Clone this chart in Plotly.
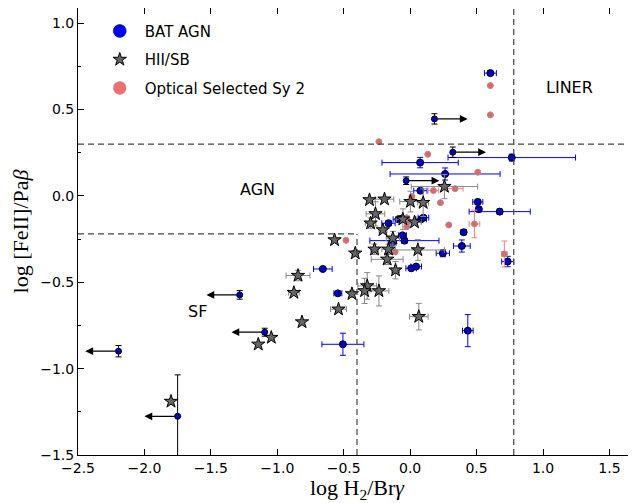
import plotly.graph_objects as go

# BAT AGN, measured points (blue error bars)
bat_x = [0.604, 0.765, 0.075, 0.263, 0.077, 0.509, 0.517, 0.674, 0.403, 0.389,
         0.246, 0.734, 0.008, 0.045, -0.657, -0.544, -0.506, -0.043, -0.058, -0.135,
         -0.163, -0.088, -0.063, 0.083, 0.100, 0.434]
bat_y = [0.711, 0.222, 0.193, 0.127, 0.030, -0.035, -0.077, -0.091, -0.210, -0.290,
         -0.332, -0.380, -0.419, -0.409, -0.423, -0.564, -0.859, -0.259, -0.228, -0.270,
         -0.158, -0.135, -0.131, -0.135, -0.126, -0.780]
bat_xerr = [0.045, 0.48, 0.287, 0.414, 0.05, 0.038, 0.02, 0.23, 0.02, 0.063,
            0.05, 0.045, 0.04, 0.04, 0.07, 0.03, 0.158, 0.26, 0.03, 0.03,
            0.05, 0.04, 0.03, 0.04, 0.04, 0.04]
bat_yerr = [0.012, 0.02, 0.03, 0.035, 0.01, 0.015, 0.012, 0.015, 0.012, 0.035,
            0.02, 0.03, 0.01, 0.01, 0.01, 0.01, 0.064, 0.015, 0.012, 0.012,
            0.015, 0.012, 0.01, 0.01, 0.01, 0.093]

# BAT AGN, limits in H2/Brg (arrows)
lim_x = [-1.283, -1.095, -2.195, -1.75, 0.183, 0.321, -0.03]
lim_y = [-0.573, -0.789, -0.899, -1.276, 0.446, 0.253, 0.088]
lim_yerr_up = [0.025, 0.023, 0.033, 0.24, 0.03, 0.03, 0.022]
lim_yerr_dn = [0.025, 0.023, 0.033, 0.30, 0.03, 0.03, 0.022]
lim_dir = [-1, -1, -1, -1, 1, 1, 1]
arrow_len = 0.25

# HII / starbursts
sb_x = [-1.80, -1.143, -1.045, -0.814, -0.875, -0.844, -0.569, -0.413, -0.539, -0.438,
        -0.323, -0.343, -0.235, 0.065, -0.110, -0.173, -0.268, -0.163, 0.058, -0.130,
        -0.205, -0.298, -0.261, -0.055, 0.033, -0.306, -0.193, 0.002, 0.098, 0.258]
sb_y = [-1.19, -0.859, -0.82, -0.73, -0.56, -0.461, -0.255, -0.332, -0.656, -0.567,
        -0.521, -0.55, -0.55, -0.699, -0.43, -0.367, -0.309, -0.309, -0.313, -0.245,
        -0.197, -0.158, -0.104, -0.135, -0.152, -0.023, -0.019, -0.033, -0.039, 0.054]
sb_xerr = [0, 0, 0, 0, 0.04, 0.09, 0, 0.025, 0.06, 0,
           0.07, 0, 0.075, 0.07, 0.03, 0.12, 0.03, 0.05, 0.2, 0.05,
           0.03, 0.04, 0.07, 0.05, 0.05, 0, 0.07, 0.08, 0.04, 0.25]
sb_yerr = [0, 0, 0, 0, 0.01, 0.03, 0, 0.015, 0, 0.02,
           0.077, 0.073, 0.087, 0.077, 0.05, 0.03, 0.03, 0.03, 0.06, 0.04,
           0, 0.03, 0.07, 0.06, 0, 0, 0, 0.06, 0.08, 0.07]

# Optical selected Sy 2
sy_x = [0.604, 0.604, -0.235, 0.133, 0.509, 0.175, 0.338, 0.013, 0.228, 0.291,
        0.484, 0.709, -0.483, -0.113, -0.025, -0.012, -0.025]
sy_y = [0.639, 0.469, 0.314, 0.241, 0.137, 0.031, 0.042, -0.004, -0.039, -0.168,
        -0.162, -0.336, -0.257, -0.324, -0.178, -0.149, -0.126]
sy_xerr = [0, 0, 0, 0, 0, 0.04, 0.06, 0, 0, 0,
           0.04, 0.02, 0, 0, 0, 0, 0]
sy_yerr = [0, 0, 0, 0, 0, 0, 0.01, 0, 0, 0,
           0.08, 0.075, 0, 0, 0, 0, 0]

fig = go.Figure()

fig.add_trace(go.Scatter(
    x=bat_x, y=bat_y, mode='markers', showlegend=False,
    error_x=dict(type='data', array=bat_xerr, color='blue', thickness=1, width=3),
    error_y=dict(type='data', array=bat_yerr, color='blue', thickness=1, width=3),
    marker=dict(color='#0000cc', size=7, line=dict(color='black', width=1))))

fig.add_trace(go.Scatter(
    x=lim_x, y=lim_y, mode='markers', showlegend=False,
    error_y=dict(type='data', symmetric=False, array=lim_yerr_up, arrayminus=lim_yerr_dn,
                 color='black', thickness=1, width=3),
    marker=dict(color='#0000cc', size=6, line=dict(color='black', width=1))))

fig.add_trace(go.Scatter(
    x=sy_x, y=sy_y, mode='markers', showlegend=False,
    error_x=dict(type='data', array=sy_xerr, color='#f08080', thickness=1, width=3),
    error_y=dict(type='data', array=sy_yerr, color='#f08080', thickness=1, width=3),
    marker=dict(color='#f06060', size=6, line=dict(color='#999999', width=1))))

fig.add_trace(go.Scatter(
    x=sb_x, y=sb_y, mode='markers', showlegend=False,
    error_x=dict(type='data', array=sb_xerr, color='#888888', thickness=1, width=3),
    error_y=dict(type='data', array=sb_yerr, color='#888888', thickness=1, width=3),
    marker=dict(symbol='star', color='#666666', size=10, line=dict(color='black', width=1))))

# legend entries
fig.add_trace(go.Scatter(x=[None], y=[None], mode='markers', name='BAT AGN', legendgroup='a',
                         marker=dict(color='blue', size=13, line=dict(color='black', width=0.5))))
fig.add_trace(go.Scatter(x=[None], y=[None], mode='markers', name='HII/SB', legendgroup='b',
                         marker=dict(symbol='star', color='#666666', size=10, line=dict(color='black', width=1))))
fig.add_trace(go.Scatter(x=[None], y=[None], mode='markers', name='Optical Selected Sy 2', legendgroup='c',
                         marker=dict(color='#f07070', size=13, line=dict(color='#999999', width=0.5))))

annotations = []
for x, y, d in zip(lim_x, lim_y, lim_dir):
    annotations.append(dict(x=x + d * arrow_len, y=y, ax=x, ay=y, xref='x', yref='y',
                            axref='x', ayref='y', text=' ', showarrow=True,
                            arrowhead=2, arrowsize=1.3, arrowwidth=1.2, arrowcolor='black',
                            standoff=0, startstandoff=0))
for txt, x, y in [('AGN', -1.15, 0.035), ('SF', -1.6, -0.67), ('LINER', 1.2, 0.63)]:
    annotations.append(dict(x=x, y=y, xref='x', yref='y', text=txt, showarrow=False,
                            font=dict(family='DejaVu Sans', size=16, color='black')))

dash = dict(color='#444444', width=1.2, dash='6px,4px')
shapes = [
    dict(type='line', xref='paper', yref='y', x0=0, x1=1, y0=0.3, y1=0.3, line=dash),
    dict(type='line', xref='x', yref='paper', x0=0.78, x1=0.78, y0=0, y1=1, line=dash),
    dict(type='line', xref='x', yref='y', x0=-2.5, x1=-0.4, y0=-0.22, y1=-0.22, line=dash),
    dict(type='line', xref='x', yref='y', x0=-0.4, x1=-0.4, y0=-1.5, y1=-0.22, line=dash),
]

axis_common = dict(showline=True, linecolor='black', linewidth=1, mirror='allticks',
                   ticks='inside', ticklen=6, tickcolor='black', showgrid=False, zeroline=False,
                   tickfont=dict(family='DejaVu Sans', size=14, color='black'))

# page body has an 8px margin, so the figure is sized/offset to compensate
fig.update_layout(
    width=628, height=495,
    margin=dict(l=70, r=0, t=0, b=48),
    plot_bgcolor='white', paper_bgcolor='white',
    xaxis=dict(range=[-2.5, 1.7], tickvals=[-2.5, -2, -1.5, -1, -0.5, 0, 0.5, 1, 1.5],
               tickformat='.1f',
               title=dict(text='log H<sub>2</sub>/Br<i>γ</i>', standoff=4,
                          font=dict(family='Liberation Serif', size=22, color='black')),
               **axis_common),
    yaxis=dict(range=[-1.5, 1.088], tickvals=[-1.5, -1, -0.5, 0, 0.5, 1], tickformat='.1f',
               minor=dict(ticks='inside', dtick=0.25, ticklen=3, tickcolor='black'),
               title=dict(text='log [FeII]/Pa<i>β</i>', standoff=8,
                          font=dict(family='Liberation Serif', size=22, color='black')),
               **axis_common),
    legend=dict(x=0.03, y=0.985, xanchor='left', yanchor='top', bgcolor='rgba(0,0,0,0)',
                itemwidth=40,
                font=dict(family='DejaVu Sans', size=15, color='black'), tracegroupgap=6),
    annotations=annotations,
    shapes=shapes,
)

fig.write_html("out.html")
